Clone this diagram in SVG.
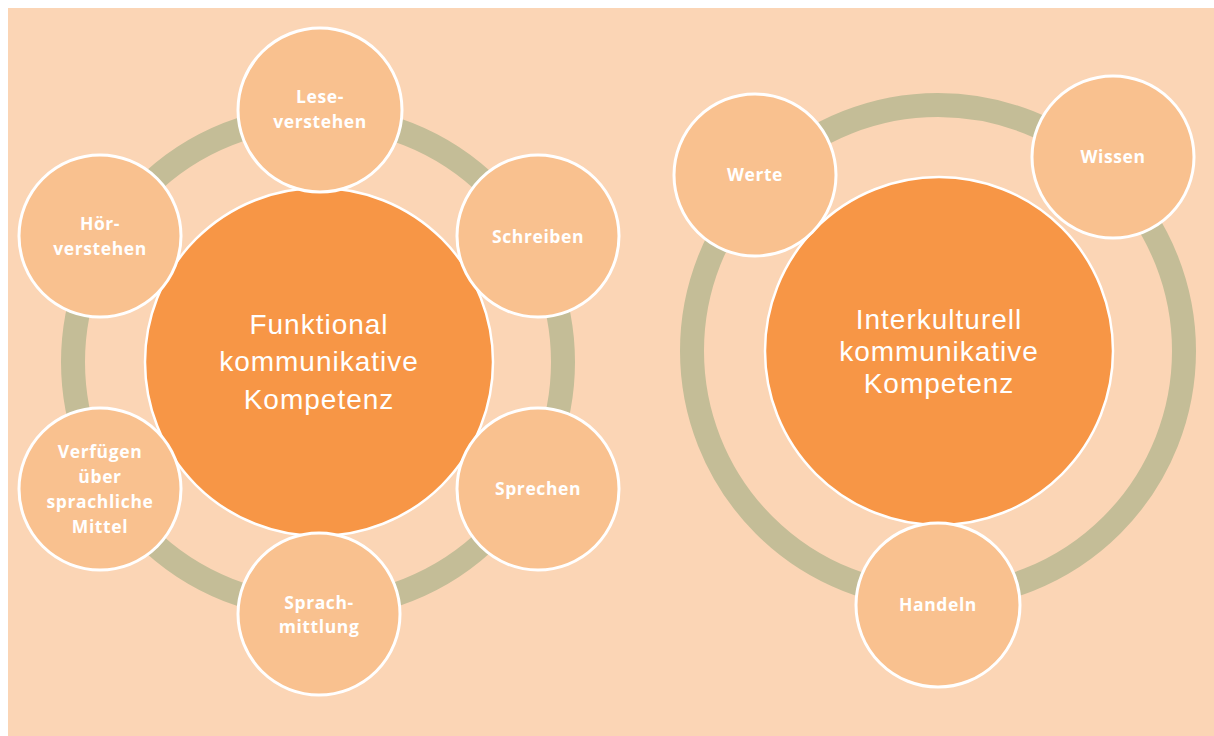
<svg xmlns="http://www.w3.org/2000/svg" width="1214" height="736" viewBox="0 0 1214 736">
<style>
.bg{fill:#FBD5B5}
.ring{fill:none;stroke:#C4BD97;stroke-width:24}
.big{fill:#F79646;stroke:#FFFFFF;stroke-width:2.5}
.small{fill:#F9C18F;stroke:#FFFFFF;stroke-width:3}
.bt{font-family:"Liberation Sans",Arial,sans-serif;font-size:28px;letter-spacing:1px;fill:#FFFFFF;text-anchor:middle}
.st{font-family:"Open Sans","Liberation Sans",sans-serif;font-size:17.5px;letter-spacing:0.6px;font-weight:bold;fill:#FFFFFF;text-anchor:middle}
</style>
<rect class="bg" x="8" y="8" width="1206" height="728"/>
<g id="connectors">
<circle class="ring" cx="318" cy="362" r="245"/>
<circle class="ring" cx="938" cy="351" r="246"/>
</g>
<g id="funktional">
<circle class="big" cx="319" cy="362" r="174"/>
<text class="bt" x="319" y="334">Funktional</text>
<text class="bt" x="319" y="371">kommunikative</text>
<text class="bt" x="319" y="409">Kompetenz</text>
</g>
<g id="leseverstehen">
<circle class="small" cx="320" cy="110" r="82"/>
<text class="st" x="320" y="103">Lese-</text>
<text class="st" x="320" y="128">verstehen</text>
</g>
<g id="schreiben">
<circle class="small" cx="538" cy="236" r="81"/>
<text class="st" x="538" y="243">Schreiben</text>
</g>
<g id="sprechen">
<circle class="small" cx="538" cy="489" r="81"/>
<text class="st" x="538" y="495">Sprechen</text>
</g>
<g id="sprachmittlung">
<circle class="small" cx="319" cy="614" r="81"/>
<text class="st" x="319" y="609">Sprach-</text>
<text class="st" x="319" y="633">mittlung</text>
</g>
<g id="verfuegen">
<circle class="small" cx="100" cy="489" r="81"/>
<text class="st" x="100" y="458">Verfügen</text>
<text class="st" x="100" y="483">über</text>
<text class="st" x="100" y="508">sprachliche</text>
<text class="st" x="100" y="533">Mittel</text>
</g>
<g id="hoerverstehen">
<circle class="small" cx="100" cy="236" r="81"/>
<text class="st" x="100" y="230">Hör-</text>
<text class="st" x="100" y="255">verstehen</text>
</g>
<g id="interkulturell">
<circle class="big" cx="939" cy="351" r="174"/>
<text class="bt" x="939" y="329">Interkulturell</text>
<text class="bt" x="939" y="361">kommunikative</text>
<text class="bt" x="939" y="393">Kompetenz</text>
</g>
<g id="werte">
<circle class="small" cx="755" cy="175" r="81"/>
<text class="st" x="755" y="181">Werte</text>
</g>
<g id="wissen">
<circle class="small" cx="1113" cy="157" r="81"/>
<text class="st" x="1113" y="163">Wissen</text>
</g>
<g id="handeln">
<circle class="small" cx="938" cy="605" r="82"/>
<text class="st" x="938" y="611">Handeln</text>
</g>
</svg>
